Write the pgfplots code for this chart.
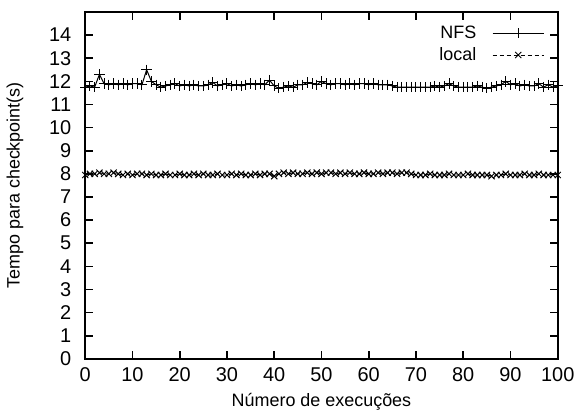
\documentclass[border=0pt]{standalone}
\usepackage{pgfplots}
\pgfplotsset{compat=1.18}
\usepackage{pgfplotstable}
\usepackage{fontspec}
\setmainfont{Liberation Sans}

\pgfplotstableread{
x y
0 11.75
1 11.80
2 11.75
3 12.30
4 11.90
5 11.85
6 11.90
7 11.85
8 11.90
9 11.85
10 11.90
11 11.90
12 11.85
13 12.50
14 12.00
15 11.85
16 11.75
17 11.80
18 11.85
19 11.90
20 11.80
21 11.85
22 11.80
23 11.85
24 11.80
25 11.80
26 11.85
27 11.95
28 11.80
29 11.85
30 11.90
31 11.80
32 11.85
33 11.80
34 11.85
35 11.90
36 11.85
37 11.90
38 11.85
39 12.05
40 11.80
41 11.70
42 11.75
43 11.80
44 11.75
45 11.85
46 11.85
47 11.95
48 11.90
49 11.85
50 12.00
51 11.90
52 11.85
53 11.90
54 11.90
55 11.85
56 11.90
57 11.85
58 11.90
59 11.90
60 11.85
61 11.90
62 11.85
63 11.85
64 11.85
65 11.80
66 11.75
67 11.75
68 11.75
69 11.75
70 11.75
71 11.75
72 11.75
73 11.75
74 11.80
75 11.75
76 11.80
77 11.90
78 11.80
79 11.75
80 11.75
81 11.75
82 11.75
83 11.80
84 11.75
85 11.70
86 11.75
87 11.80
88 11.85
89 12.00
90 11.85
91 11.90
92 11.80
93 11.85
94 11.80
95 11.80
96 11.90
97 11.75
98 11.85
99 11.75
100 11.80
}\nfs

\pgfplotstableread{
x y
0 7.95
1 8.00
2 8.00
3 8.05
4 8.00
5 8.00
6 8.05
7 8.00
8 7.95
9 8.00
10 7.95
11 8.00
12 8.00
13 7.95
14 8.00
15 7.95
16 7.95
17 8.00
18 7.95
19 7.95
20 8.00
21 7.95
22 7.95
23 8.00
24 7.95
25 8.00
26 7.95
27 7.95
28 8.00
29 7.95
30 7.95
31 8.00
32 7.95
33 8.00
34 7.95
35 7.95
36 8.00
37 7.95
38 8.00
39 8.00
40 7.90
41 8.00
42 8.05
43 8.00
44 8.05
45 8.00
46 8.00
47 8.05
48 8.00
49 8.05
50 8.00
51 8.05
52 8.05
53 8.00
54 8.05
55 8.00
56 8.05
57 8.00
58 8.00
59 8.05
60 8.00
61 8.00
62 8.05
63 8.00
64 8.05
65 8.05
66 8.00
67 8.05
68 8.05
69 8.00
70 7.95
71 7.95
72 7.95
73 8.00
74 7.95
75 7.95
76 7.95
77 8.00
78 7.95
79 7.95
80 7.95
81 8.00
82 7.95
83 7.95
84 7.95
85 7.95
86 7.90
87 7.95
88 7.95
89 8.00
90 7.95
91 7.95
92 7.95
93 8.00
94 7.95
95 7.95
96 8.00
97 7.95
98 7.95
99 7.95
100 7.95
}\local

\begin{document}
\begin{tikzpicture}
\begin{axis}[
    scale only axis,
    width=237pt,
    height=174pt,
    xmin=0, xmax=100,
    ymin=0, ymax=15,
    xtick={0,10,...,100},
    ytick={0,1,...,14},
    tick align=inside,
    major tick length=4pt,
    axis line style={line width=0.8pt},
    every tick/.style={line width=0.8pt, black},
    xlabel={Número de execuções},
    ylabel={Tempo para checkpoint(s)},
    xlabel style={yshift=1pt},
    ylabel style={yshift=6pt},
    tick label style={font=\normalsize},
    yticklabel style={xshift=-3.5pt},
    xticklabel style={yshift=-1pt},
    label style={font=\small},
    /pgf/number format/assume math mode=true,
    legend style={at={(0.985,0.985)}, anchor=north east, draw=none, fill=none,
        font=\small, row sep=-1pt, legend cell align=right,
        /tikz/every odd column/.append style={column sep=6pt}},
    legend plot pos=right,
    legend image code/.code={
        \draw[mark repeat=2,mark phase=2,#1] plot coordinates {(0cm,0cm)(0.45cm,0cm)(0.9cm,0cm)};
    },
]
\addplot[black, line width=0.5pt, mark=+, mark size=2.6pt,
    mark options={solid, line width=0.5pt}] table[x=x, y=y] {\nfs};
\addlegendentry{NFS}
\addplot[black, line width=0.5pt, dash pattern=on 2pt off 1.5pt, mark=x, mark size=2.2pt,
    mark options={solid, line width=0.5pt}] table[x=x, y=y] {\local};
\addlegendentry{local}
\end{axis}
\path ([yshift=6pt]current axis.north west) -- (current axis.north east);
\end{tikzpicture}
\end{document}
